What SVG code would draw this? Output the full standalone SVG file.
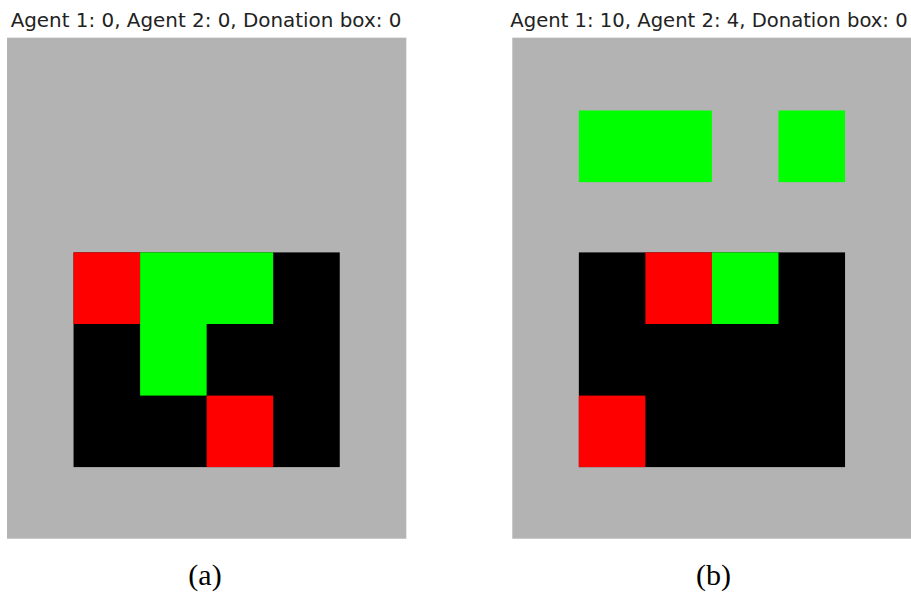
<svg xmlns="http://www.w3.org/2000/svg" width="911" height="592" viewBox="0 0 911 592">
<style>
.bg{fill:#b3b3b3}
.k{fill:#000000}
.r{fill:#ff0000}
.g{fill:#00ff00}
.title{font-family:"DejaVu Sans",sans-serif;font-size:19.6px;fill:#222222}
.cap{font-family:"Liberation Serif","DejaVu Serif",serif;font-size:30px;fill:#000000}
</style>
<rect width="911" height="592" fill="#ffffff"/>
<g id="panel-a">
<text class="title" x="206" y="27" text-anchor="middle" style="font-size:19.9px">Agent 1: 0, Agent 2: 0, Donation box: 0</text>
<rect class="bg" x="7" y="37.7" width="399.3" height="501"/>
<rect class="k" x="73.55" y="252.4" width="266.2" height="214.7"/>
<rect class="r" x="73.55" y="252.4" width="66.55" height="71.6"/>
<rect class="g" x="140.1" y="252.4" width="133.1" height="71.6"/>
<rect class="g" x="140.1" y="323.5" width="66.55" height="72.1"/>
<rect class="r" x="206.65" y="395.6" width="66.55" height="71.5"/>
<text class="cap" x="205" y="585" text-anchor="middle">(a)</text>
</g>
<g id="panel-b">
<text class="title" x="709" y="27" text-anchor="middle">Agent 1: 10, Agent 2: 4, Donation box: 0</text>
<rect class="bg" x="512.3" y="37.7" width="399.3" height="501"/>
<rect class="g" x="578.85" y="110.5" width="133.1" height="71.6"/>
<rect class="g" x="778.5" y="110.5" width="66.55" height="71.6"/>
<rect class="k" x="578.85" y="252.4" width="266.2" height="214.7"/>
<rect class="r" x="645.4" y="252.4" width="66.55" height="71.6"/>
<rect class="g" x="711.95" y="252.4" width="66.55" height="71.6"/>
<rect class="r" x="578.85" y="395.6" width="66.55" height="71.5"/>
<text class="cap" x="713.5" y="585" text-anchor="middle">(b)</text>
</g>
</svg>
